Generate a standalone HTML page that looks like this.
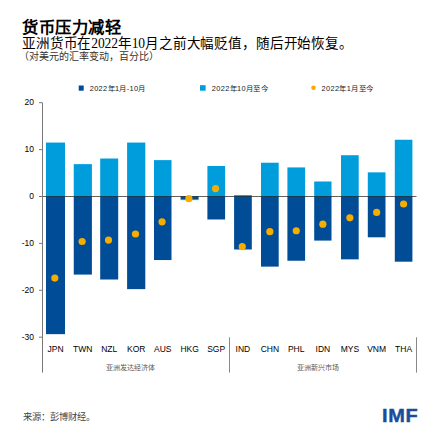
<!DOCTYPE html>
<html lang="zh-CN"><head><meta charset="utf-8">
<style>
html,body{margin:0;padding:0;background:#fff;}
body{width:439px;height:439px;position:relative;overflow:hidden;font-family:"Liberation Sans",sans-serif;}
.t{position:absolute;white-space:nowrap;}
#title{left:22px;top:18.3px;font-size:16.3px;letter-spacing:0.6px;font-weight:bold;color:#000;line-height:20px;font-family:"Liberation Serif",serif;}
#sub{left:22px;top:35px;font-size:13.55px;letter-spacing:-0.14px;color:#000;line-height:17px;font-family:"Liberation Serif",serif;}
#note{left:19px;top:51px;font-size:10px;color:#333;line-height:12px;}
.leg{position:absolute;top:84px;font-size:7.4px;letter-spacing:0.35px;color:#222;line-height:9px;white-space:nowrap;}
.yl{position:absolute;right:405px;font-size:8.5px;color:#000;line-height:11px;text-align:right;}
.xl{position:absolute;top:344px;width:30px;text-align:center;font-size:8.5px;color:#000;line-height:11px;}
.grp{position:absolute;top:362px;font-size:7px;color:#555;line-height:10px;white-space:nowrap;}
#src{left:23px;top:410.5px;font-size:9.3px;color:#444;line-height:12px;}
#imf{left:382px;top:406px;font-size:17.5px;font-weight:bold;color:#1a4c9c;line-height:20px;letter-spacing:0.6px;transform:scaleX(1.14);transform-origin:0 0;-webkit-text-stroke:0.4px #1a4c9c;}
svg{position:absolute;left:0;top:0;}
</style></head><body>
<svg width="439" height="439" viewBox="0 0 439 439">
<rect x="46.00" y="196.50" width="19.00" height="137.65" fill="#004c97"/>
<rect x="46.00" y="142.56" width="19.00" height="53.94" fill="#009ddc"/>
<rect x="73.75" y="196.50" width="18.15" height="78.09" fill="#004c97"/>
<rect x="73.75" y="164.14" width="18.15" height="32.36" fill="#009ddc"/>
<rect x="100.20" y="196.50" width="18.00" height="83.01" fill="#004c97"/>
<rect x="100.20" y="158.51" width="18.00" height="37.99" fill="#009ddc"/>
<rect x="127.10" y="196.50" width="18.20" height="92.63" fill="#004c97"/>
<rect x="127.10" y="142.56" width="18.20" height="53.94" fill="#009ddc"/>
<rect x="154.00" y="196.50" width="17.50" height="63.55" fill="#004c97"/>
<rect x="154.00" y="160.11" width="17.50" height="36.39" fill="#009ddc"/>
<rect x="180.60" y="196.50" width="18.00" height="2.58" fill="#004c97"/>
<rect x="180.60" y="199.08" width="18.00" height="1.03" fill="#009ddc"/>
<rect x="207.40" y="196.50" width="17.70" height="22.98" fill="#004c97"/>
<rect x="207.40" y="166.01" width="17.70" height="30.49" fill="#009ddc"/>
<rect x="234.10" y="196.50" width="17.70" height="53.00" fill="#004c97"/>
<rect x="234.10" y="195.09" width="17.70" height="1.41" fill="#009ddc"/>
<rect x="261.00" y="196.50" width="17.70" height="70.12" fill="#004c97"/>
<rect x="261.00" y="162.73" width="17.70" height="33.77" fill="#009ddc"/>
<rect x="287.40" y="196.50" width="17.70" height="64.25" fill="#004c97"/>
<rect x="287.40" y="167.42" width="17.70" height="29.08" fill="#009ddc"/>
<rect x="314.20" y="196.50" width="17.30" height="44.09" fill="#004c97"/>
<rect x="314.20" y="181.49" width="17.30" height="15.01" fill="#009ddc"/>
<rect x="341.00" y="196.50" width="17.70" height="62.85" fill="#004c97"/>
<rect x="341.00" y="155.23" width="17.70" height="41.27" fill="#009ddc"/>
<rect x="367.80" y="196.50" width="17.70" height="40.80" fill="#004c97"/>
<rect x="367.80" y="172.35" width="17.70" height="24.15" fill="#009ddc"/>
<rect x="394.80" y="196.50" width="17.60" height="65.19" fill="#004c97"/>
<rect x="394.80" y="139.75" width="17.60" height="56.75" fill="#009ddc"/>
<line x1="39" y1="196.50" x2="42" y2="196.50" stroke="#777" stroke-width="1"/>
<line x1="42" y1="196.50" x2="416.5" y2="196.50" stroke="#000" stroke-opacity="0.62" stroke-width="1.2"/>
<circle cx="54.80" cy="278.11" r="3.6" fill="#f5ad00"/>
<circle cx="82.12" cy="241.52" r="3.6" fill="#f5ad00"/>
<circle cx="108.50" cy="240.12" r="3.6" fill="#f5ad00"/>
<circle cx="135.50" cy="234.02" r="3.6" fill="#f5ad00"/>
<circle cx="162.05" cy="221.83" r="3.6" fill="#f5ad00"/>
<circle cx="188.90" cy="198.70" r="3.6" fill="#f5ad00"/>
<circle cx="215.55" cy="188.53" r="3.6" fill="#f5ad00"/>
<circle cx="242.25" cy="246.68" r="3.6" fill="#f5ad00"/>
<circle cx="269.85" cy="231.68" r="3.6" fill="#f5ad00"/>
<circle cx="296.25" cy="230.74" r="3.6" fill="#f5ad00"/>
<circle cx="322.85" cy="224.17" r="3.6" fill="#f5ad00"/>
<circle cx="349.85" cy="217.84" r="3.6" fill="#f5ad00"/>
<circle cx="376.65" cy="212.45" r="3.6" fill="#f5ad00"/>
<circle cx="403.60" cy="204.00" r="3.6" fill="#f5ad00"/>
<line x1="42.5" y1="102.7" x2="42.5" y2="372.6" stroke="#777" stroke-width="1"/>
<line x1="39" y1="102.70" x2="42.3" y2="102.70" stroke="#777" stroke-width="1"/>
<line x1="39" y1="149.60" x2="42.3" y2="149.60" stroke="#777" stroke-width="1"/>
<line x1="39" y1="243.40" x2="42.3" y2="243.40" stroke="#777" stroke-width="1"/>
<line x1="39" y1="290.30" x2="42.3" y2="290.30" stroke="#777" stroke-width="1"/>
<line x1="39" y1="337.20" x2="42.3" y2="337.20" stroke="#777" stroke-width="1"/>
<line x1="229.5" y1="337.3" x2="229.5" y2="372.6" stroke="#888" stroke-width="1"/>
<line x1="416.5" y1="337.3" x2="416.5" y2="372.6" stroke="#888" stroke-width="1"/>
<rect x="78.7" y="85.5" width="5" height="5.2" fill="#004c97"/>
<rect x="200" y="85.2" width="5.6" height="5.5" fill="#009ddc"/>
<circle cx="313.5" cy="87.8" r="2.3" fill="#f5ad00"/>
</svg>
<div class="t" id="title">货币压力减轻</div>
<div class="t" id="sub">亚洲货币在2022年10月之前大幅贬值，随后开始恢复。</div>
<div class="t" id="note">（对美元的汇率变动，百分比）</div>
<div class="leg" style="left:89.7px">2022年1月-10月</div>
<div class="leg" style="left:211.8px">2022年10月至今</div>
<div class="leg" style="left:321.5px">2022年1月至今</div>
<div class="yl" style="top:97.2px">20</div>
<div class="yl" style="top:144.1px">10</div>
<div class="yl" style="top:191.0px">0</div>
<div class="yl" style="top:237.9px">-10</div>
<div class="yl" style="top:284.8px">-20</div>
<div class="yl" style="top:331.7px">-30</div>
<div class="xl" style="left:40.5px">JPN</div>
<div class="xl" style="left:67.8px">TWN</div>
<div class="xl" style="left:94.2px">NZL</div>
<div class="xl" style="left:121.2px">KOR</div>
<div class="xl" style="left:147.8px">AUS</div>
<div class="xl" style="left:174.6px">HKG</div>
<div class="xl" style="left:201.2px">SGP</div>
<div class="xl" style="left:227.9px">IND</div>
<div class="xl" style="left:254.9px">CHN</div>
<div class="xl" style="left:281.2px">PHL</div>
<div class="xl" style="left:307.9px">IDN</div>
<div class="xl" style="left:334.9px">MYS</div>
<div class="xl" style="left:361.6px">VNM</div>
<div class="xl" style="left:388.6px">THA</div>
<div class="grp" style="left:105.5px;top:363.3px">亚洲发达经济体</div>
<div class="grp" style="left:297px;top:362.5px">亚洲新兴市场</div>
<div class="t" id="src">来源：彭博财经。</div>
<div class="t" id="imf">IMF</div>
</body></html>
